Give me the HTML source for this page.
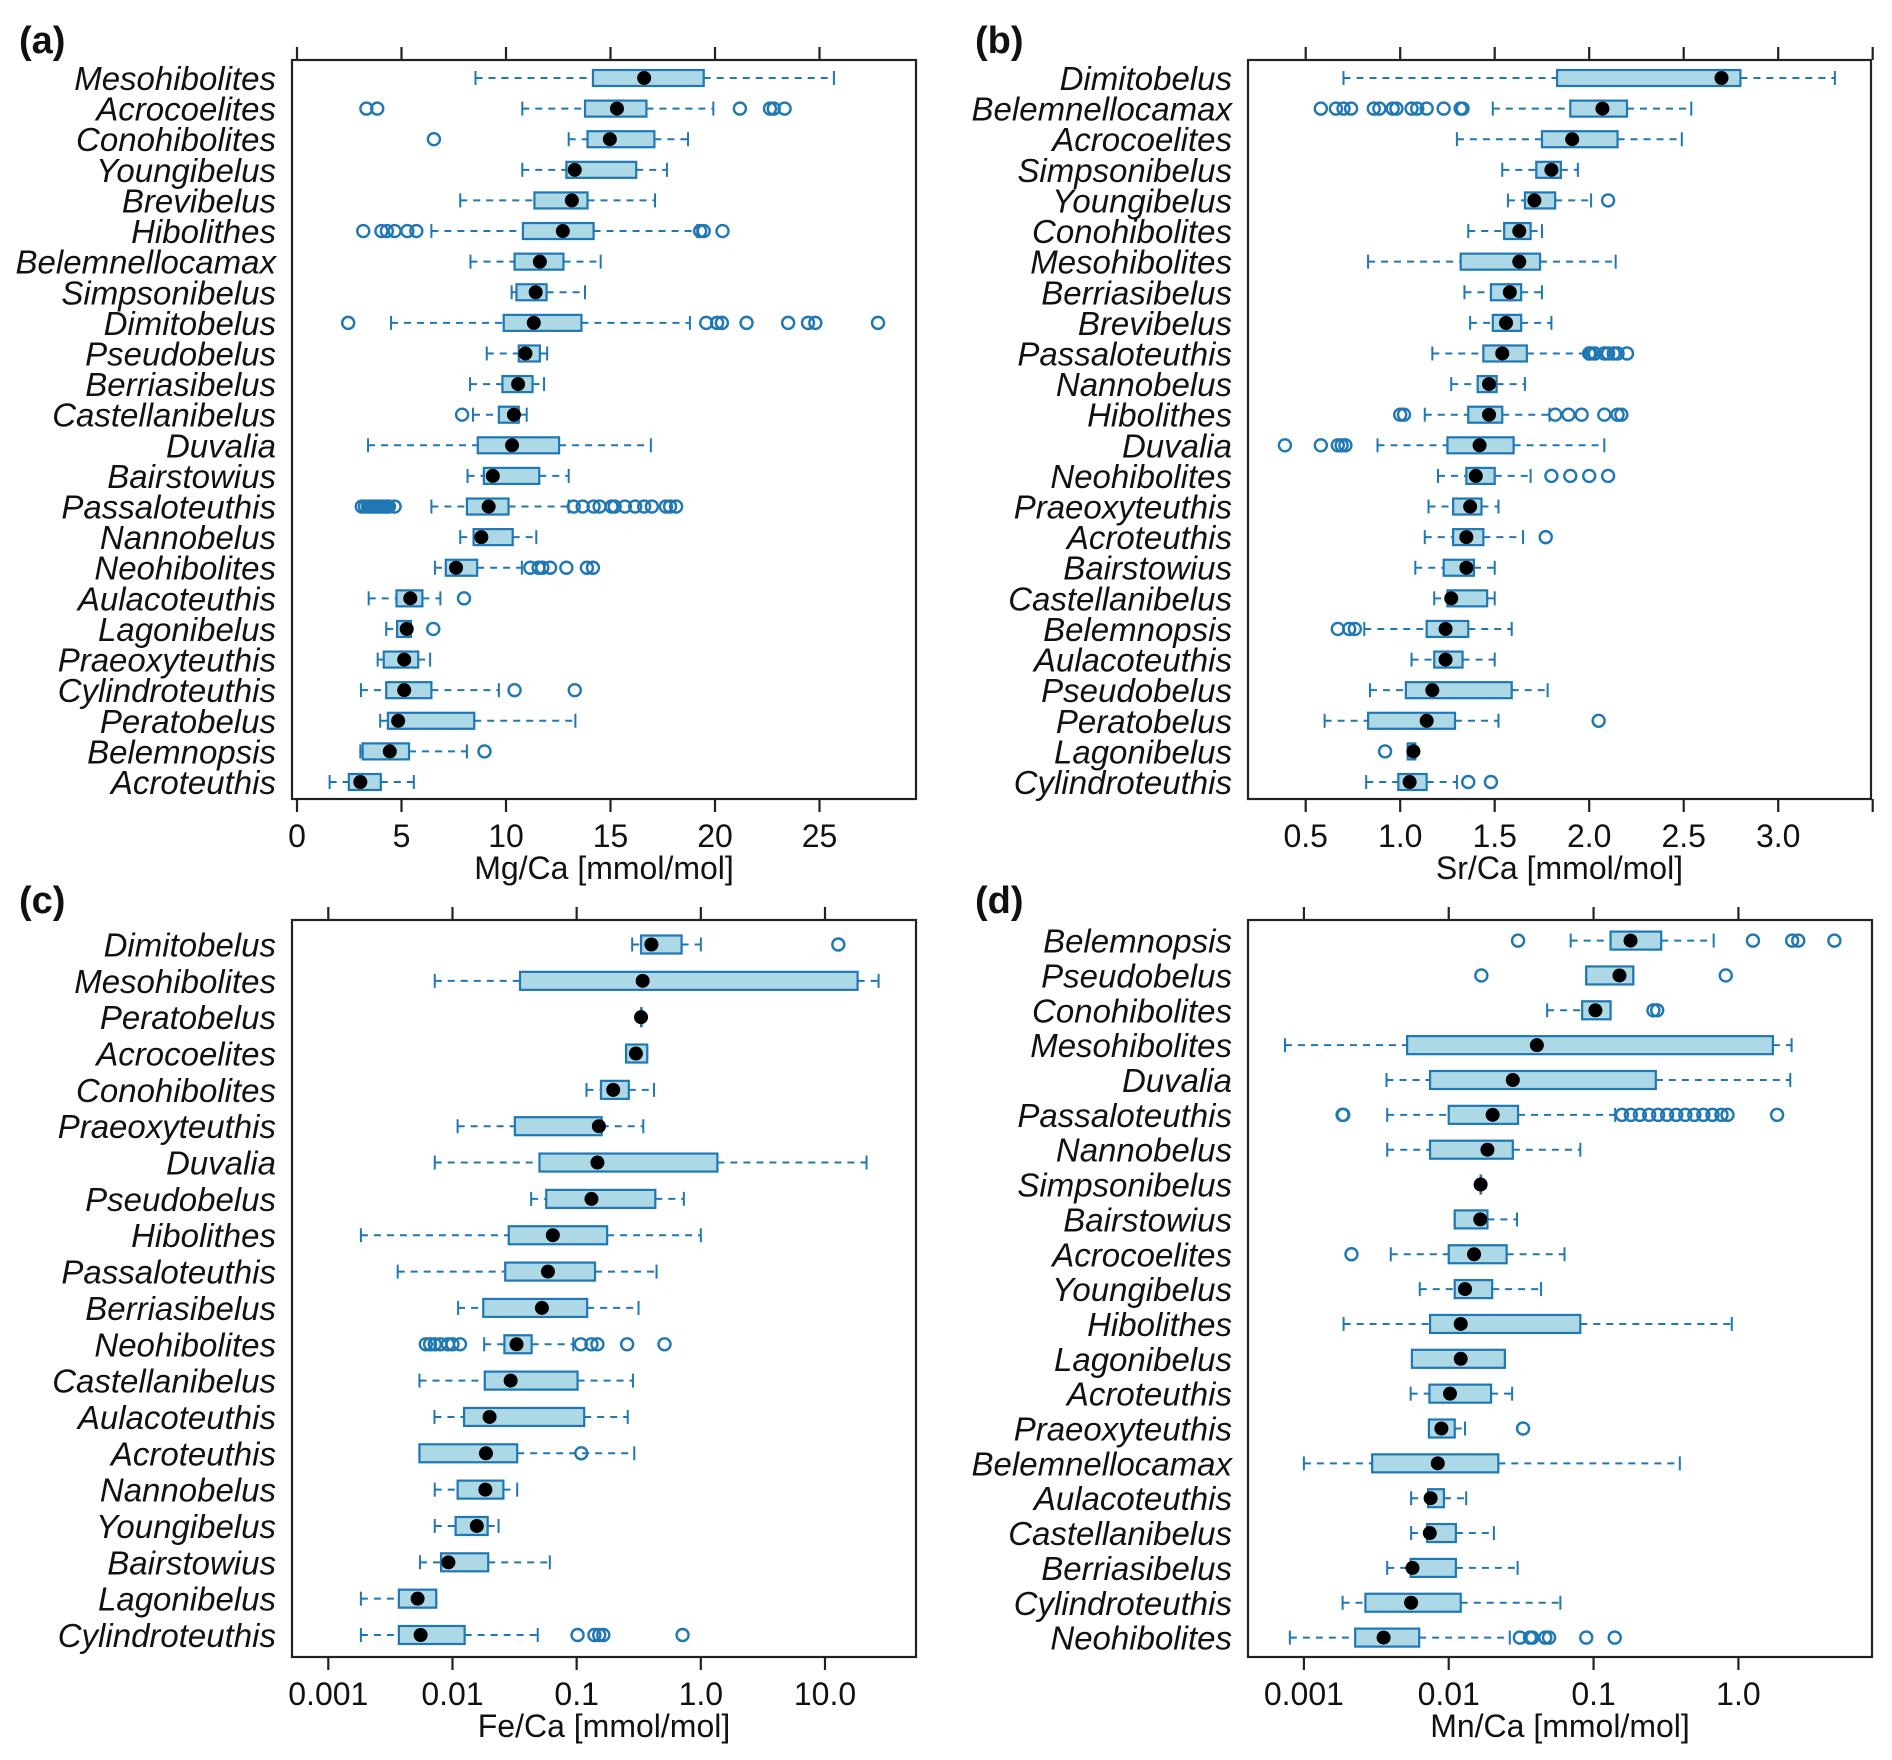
<!DOCTYPE html>
<html><head><meta charset="utf-8"><style>
html,body{margin:0;padding:0;background:#fff;}
svg{display:block;font-family:"Liberation Sans",Arial,sans-serif;}
</style></head><body>
<svg id="fig" width="1892" height="1760" viewBox="0 0 1892 1760" xmlns="http://www.w3.org/2000/svg"></svg>
<script>
// ---- Panel (a) Mg/Ca ----
const aNames=["Mesohibolites","Acrocoelites","Conohibolites","Youngibelus","Brevibelus","Hibolithes","Belemnellocamax","Simpsonibelus","Dimitobelus","Pseudobelus","Berriasibelus","Castellanibelus","Duvalia","Bairstowius","Passaloteuthis","Nannobelus","Neohibolites","Aulacoteuthis","Lagonibelus","Praeoxyteuthis","Cylindroteuthis","Peratobelus","Belemnopsis","Acroteuthis"];
const aLo=[8.54,10.78,13.0,10.78,7.81,6.43,8.3,10.27,4.5,9.08,8.28,8.42,3.4,8.16,6.43,7.81,6.6,3.43,4.27,3.86,3.06,3.98,3.03,1.56];
const aQ1=[14.16,13.78,13.9,12.89,11.36,10.81,10.41,10.5,9.89,10.61,9.83,9.66,8.65,8.94,8.13,8.45,7.12,4.76,4.79,4.15,4.27,4.35,3.14,2.48];
const aMed=[16.61,15.31,14.97,13.29,13.15,12.72,11.62,11.42,11.33,10.93,10.58,10.38,10.29,9.37,9.17,8.82,7.61,5.42,5.25,5.13,5.13,4.84,4.44,3.03];
const aQ3=[19.46,16.72,17.1,16.23,13.9,14.19,12.75,11.94,13.61,11.62,11.27,10.61,12.54,11.59,10.12,10.32,8.62,6.0,5.45,5.8,6.43,8.48,5.36,4.01];
const aHi=[25.69,19.92,18.71,17.7,17.13,19.15,14.53,13.78,18.8,11.97,11.82,10.99,16.93,13.0,13.0,11.45,10.76,6.86,5.45,6.37,9.66,13.32,8.13,5.59];
const aOut=[[],[3.32,3.84,21.19,22.63,22.81,23.33],[6.55],[],[],[3.17,4.04,4.3,4.67,5.28,5.71,19.29,19.46,20.36],[],[],[2.45,19.58,20.1,20.33,21.51,23.5,24.45,24.8,27.8],[],[],[7.9],[],[],[3.1,3.25,3.4,3.5,3.6,3.7,3.8,3.9,4.0,4.1,4.2,4.3,4.4,4.67,13.24,13.67,14.19,14.48,15.05,15.2,15.69,16.18,16.61,16.98,17.65,17.85,18.14],[],[11.16,11.56,11.74,12.11,12.89,13.87,14.16],[7.99],[6.52],[],[10.41,13.29],[],[8.97],[]];
const aTicks=[0,5,10,15,20,25];
const aTickLabels=["0","5","10","15","20","25"];

// ---- Panel (b) Sr/Ca ----
const bNames=["Dimitobelus","Belemnellocamax","Acrocoelites","Simpsonibelus","Youngibelus","Conohibolites","Mesohibolites","Berriasibelus","Brevibelus","Passaloteuthis","Nannobelus","Hibolithes","Duvalia","Neohibolites","Praeoxyteuthis","Acroteuthis","Bairstowius","Castellanibelus","Belemnopsis","Aulacoteuthis","Pseudobelus","Peratobelus","Lagonibelus","Cylindroteuthis"];
const bLo=[0.70,1.49,1.30,1.54,1.57,1.36,0.83,1.34,1.37,1.17,1.27,1.13,0.88,1.20,1.15,1.13,1.08,1.18,0.81,1.06,0.84,0.60,1.04,0.82];
const bQ1=[1.83,1.90,1.75,1.72,1.66,1.55,1.32,1.48,1.49,1.44,1.41,1.36,1.25,1.35,1.28,1.28,1.23,1.25,1.14,1.18,1.03,0.83,1.04,0.99];
const bMed=[2.70,2.07,1.91,1.80,1.71,1.63,1.63,1.58,1.56,1.54,1.47,1.47,1.42,1.40,1.37,1.35,1.35,1.27,1.24,1.24,1.17,1.14,1.07,1.05];
const bQ3=[2.80,2.20,2.15,1.85,1.82,1.69,1.74,1.64,1.64,1.67,1.51,1.54,1.60,1.50,1.43,1.44,1.39,1.46,1.36,1.33,1.59,1.29,1.08,1.14];
const bHi=[3.30,2.54,2.49,1.94,2.01,1.75,2.14,1.75,1.80,1.99,1.66,1.79,2.08,1.69,1.52,1.65,1.50,1.50,1.59,1.50,1.78,1.52,1.08,1.30];
const bOut=[[],[0.58,0.66,0.70,0.74,0.86,0.89,0.96,0.98,1.06,1.09,1.14,1.23,1.32,1.33],[],[],[2.10],[],[],[],[],[2.0,2.01,2.03,2.08,2.10,2.13,2.15,2.20],[],[1.0,1.02,1.82,1.89,1.96,2.08,2.15,2.17],[0.39,0.58,0.67,0.69,0.71],[1.80,1.90,2.0,2.10],[],[1.77],[],[],[0.67,0.73,0.76],[],[],[2.05],[0.92],[1.36,1.48]];
const bTicks=[0.5,1.0,1.5,2.0,2.5,3.0,3.5];
const bTickLabels=["0.5","1.0","1.5","2.0","2.5","3.0",""];

// ---- Panel (c) Fe/Ca (log) ----
const cNames=["Dimitobelus","Mesohibolites","Peratobelus","Acrocoelites","Conohibolites","Praeoxyteuthis","Duvalia","Pseudobelus","Hibolithes","Passaloteuthis","Berriasibelus","Neohibolites","Castellanibelus","Aulacoteuthis","Acroteuthis","Nannobelus","Youngibelus","Bairstowius","Lagonibelus","Cylindroteuthis"];
const cLo=[0.28,0.0072,0.33,0.25,0.12,0.011,0.0072,0.043,0.00183,0.00362,0.0111,0.018,0.00542,0.00716,0.00542,0.0072,0.0072,0.00548,0.00183,0.00183];
const cQ1=[0.33,0.035,0.33,0.25,0.157,0.0318,0.0502,0.0569,0.0284,0.0266,0.0177,0.0262,0.0182,0.0124,0.00542,0.011,0.0106,0.0081,0.0037,0.0037];
const cMed=[0.40,0.34,0.33,0.30,0.197,0.151,0.147,0.1316,0.0643,0.0587,0.0525,0.0328,0.0294,0.0199,0.0186,0.0184,0.0157,0.00927,0.00524,0.00554];
const cQ3=[0.70,18.3,0.33,0.37,0.263,0.159,1.36,0.43,0.176,0.1406,0.1215,0.0434,0.1017,0.115,0.0332,0.0257,0.0192,0.0194,0.0074,0.01253];
const cHi=[1.0,27,0.33,0.37,0.42,0.344,21.6,0.73,1.0,0.44,0.315,0.094,0.284,0.258,0.291,0.0332,0.0235,0.0608,0.0074,0.0486];
const cOut=[[12.8],[],[],[],[],[],[],[],[],[],[],[0.0061,0.0066,0.0072,0.008,0.0092,0.01,0.0115,0.108,0.1316,0.147,0.255,0.51],[],[],[0.109],[],[],[],[],[0.1017,0.139,0.152,0.164,0.713]];
const cTicks=[0.001,0.01,0.1,1,10];
const cTickLabels=["0.001","0.01","0.1","1.0","10.0"];

// ---- Panel (d) Mn/Ca (log) ----
const dNames=["Belemnopsis","Pseudobelus","Conohibolites","Mesohibolites","Duvalia","Passaloteuthis","Nannobelus","Simpsonibelus","Bairstowius","Acrocoelites","Youngibelus","Hibolithes","Lagonibelus","Acroteuthis","Praeoxyteuthis","Belemnellocamax","Aulacoteuthis","Castellanibelus","Berriasibelus","Cylindroteuthis","Neohibolites"];
const dLo=[0.0695,0.089,0.0478,0.00074,0.00372,0.00376,0.00376,0.0166,0.011,0.00398,0.00631,0.00188,0.00557,0.00546,0.0073,0.001,0.0055,0.0055,0.00376,0.00185,0.0008];
const dQ1=[0.131,0.089,0.0834,0.00516,0.00743,0.01,0.00743,0.0166,0.011,0.01,0.011,0.00743,0.00557,0.00736,0.0073,0.00296,0.0072,0.0071,0.00546,0.00266,0.00226];
const dMed=[0.18,0.151,0.103,0.0406,0.0277,0.0201,0.0185,0.0166,0.0165,0.01496,0.01296,0.0121,0.0121,0.0102,0.0089,0.0084,0.0075,0.0074,0.00562,0.0055,0.00355];
const dQ3=[0.293,0.188,0.131,1.73,0.269,0.0301,0.0277,0.0166,0.0185,0.0251,0.01995,0.081,0.0244,0.0196,0.011,0.022,0.00927,0.0112,0.0112,0.0121,0.00625];
const dHi=[0.675,0.188,0.131,2.33,2.28,0.141,0.081,0.0166,0.0296,0.063,0.0434,0.9,0.0244,0.0274,0.01296,0.394,0.0132,0.0205,0.0299,0.059,0.0264];
const dOut=[[0.0301,1.26,2.35,2.59,4.6],[0.0168,0.818],[0.259,0.275],[],[],[0.00185,0.00187,0.157,0.181,0.209,0.242,0.279,0.322,0.372,0.43,0.496,0.573,0.662,0.764,0.841,1.85],[],[],[],[0.00213],[],[],[],[],[0.0326],[],[],[],[],[],[0.031,0.0364,0.0378,0.0464,0.0493,0.089,0.14]];
const dTicks=[0.001,0.01,0.1,1];
const dTickLabels=["0.001","0.01","0.1","1.0"];

const NS="http://www.w3.org/2000/svg";
const svg=document.getElementById("fig");
const BLUE="#1f77b4", FILL="#add8e6";
function mk(tag,attrs,parent){const e=document.createElementNS(NS,tag);for(const k in attrs)e.setAttribute(k,attrs[k]);(parent||svg).appendChild(e);return e;}

function panel(p){
  const g=mk("g",{});
  
  
  const sx=v=>p.log? p.x0+(Math.log10(v)-Math.log10(p.v0))*p.k : p.x0+(v-p.v0)*p.k;
  const n=p.names.length;
  const sy=i=>p.yTop+i*(p.yBot-p.yTop)/(n-1);
  const frame=mk("rect",{x:p.L,y:p.T,width:p.R-p.L,height:p.B-p.T,fill:"none",stroke:"#222","stroke-width":2.2},g);
  
  
  const plab=mk("text",{x:p.labX,y:p.labY,"font-size":38,"font-weight":"bold",fill:"#111"},g);
  plab.textContent="("+p.id+")";
  
  
  p.ticks.forEach((t,j)=>{
    const x=sx(t);
    const tt=mk("line",{x1:x,x2:x,y1:p.T,y2:p.T-13,stroke:"#222","stroke-width":2.2},g);
    
    
    const bt=mk("line",{x1:x,x2:x,y1:p.B,y2:p.B+13,stroke:"#222","stroke-width":2.2},g);
    
    
    if(p.tickLabels[j]){
      const tl=mk("text",{x:x,y:p.B+48,"font-size":32,"text-anchor":"middle",fill:"#111"},g);
      tl.textContent=p.tickLabels[j];
      
      
    }
  });
  const title=mk("text",{x:(p.L+p.R)/2+p.titleDx,y:p.B+80,"font-size":32,"text-anchor":"middle",fill:"#111"},g);
  title.textContent=p.title;
  
  
  const h=p.bh;
  for(let i=0;i<n;i++){
    const y=sy(i);
    const lab=mk("text",{x:p.L-16,y:y+12,"font-size":33,"font-style":"italic","text-anchor":"end",fill:"#111"},g);
    lab.textContent=p.names[i];
    
    
    const lo=sx(p.lo[i]),q1=sx(p.q1[i]),md=sx(p.med[i]),q3=sx(p.q3[i]),hi=sx(p.hi[i]);
    const w1=mk("line",{x1:lo,x2:q1,y1:y,y2:y,stroke:BLUE,"stroke-width":2,"stroke-dasharray":"7 6"},g);
    
    
    const w2=mk("line",{x1:q3,x2:hi,y1:y,y2:y,stroke:BLUE,"stroke-width":2,"stroke-dasharray":"7 6"},g);
    
    
    [lo,hi].forEach(x=>{
      const c=mk("line",{x1:x,x2:x,y1:y-7,y2:y+7,stroke:BLUE,"stroke-width":2},g);
      
      
    });
    const box=mk("rect",{x:q1,y:y-h,width:Math.max(q3-q1,0.5),height:2*h,fill:FILL,stroke:BLUE,"stroke-width":2.2},g);
    
    
    p.out[i].forEach(v=>{
      const o=mk("circle",{cx:sx(v),cy:y,r:6,fill:"none",stroke:BLUE,"stroke-width":2.4},g);
      
      
    });
    const d=mk("circle",{cx:md,cy:y,r:7,fill:"#000"},g);
    
    
  }
}

panel({id:"a",names:aNames,lo:aLo,q1:aQ1,med:aMed,q3:aQ3,hi:aHi,out:aOut,ticks:aTicks,tickLabels:aTickLabels,
  log:false,v0:0,x0:297,k:(819.5-297)/25,L:292,R:916,T:60,B:799,yTop:78,yBot:782,bh:8,
  labX:19,labY:53,title:"Mg/Ca [mmol/mol]",titleDx:0});
panel({id:"b",names:bNames,lo:bLo,q1:bQ1,med:bMed,q3:bQ3,hi:bHi,out:bOut,ticks:bTicks,tickLabels:bTickLabels,
  log:false,v0:0.5,x0:1305.7,k:(1778.2-1305.7)/2.5,L:1248,R:1871,T:60,B:799,yTop:78,yBot:782,bh:8,
  labX:975,labY:53,title:"Sr/Ca [mmol/mol]",titleDx:0});
panel({id:"c",names:cNames,lo:cLo,q1:cQ1,med:cMed,q3:cQ3,hi:cHi,out:cOut,ticks:cTicks,tickLabels:cTickLabels,
  log:true,v0:0.001,x0:328.3,k:(825-328.3)/4,L:292,R:916,T:920,B:1657,yTop:944.5,yBot:1635,bh:9,
  labX:19,labY:913,title:"Fe/Ca [mmol/mol]",titleDx:0});
panel({id:"d",names:dNames,lo:dLo,q1:dQ1,med:dMed,q3:dQ3,hi:dHi,out:dOut,ticks:dTicks,tickLabels:dTickLabels,
  log:true,v0:0.001,x0:1303.9,k:(1738.4-1303.9)/3,L:1248,R:1872,T:920,B:1657,yTop:940.6,yBot:1637.6,bh:9,
  labX:975,labY:913,title:"Mn/Ca [mmol/mol]",titleDx:0});
</script>
</body></html>
